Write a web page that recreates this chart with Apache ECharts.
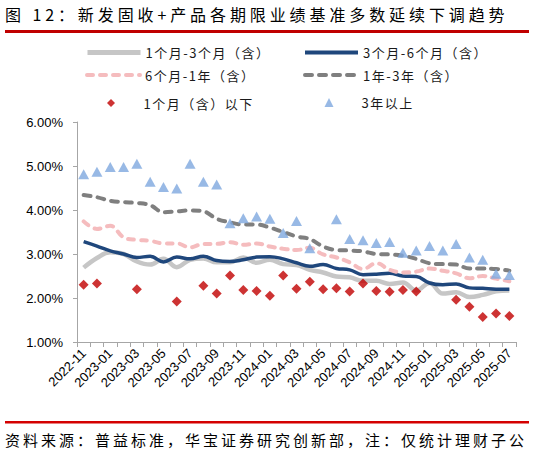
<!DOCTYPE html>
<html>
<head>
<meta charset="utf-8">
<script src="https://cdn.jsdelivr.net/npm/echarts@6/dist/echarts.min.js"></script>
<style>
html,body{margin:0;padding:0;background:#fff;}
#chart{width:534px;height:452px;}
</style>
</head>
<body>
<div id="chart"></div>
<script>
var categories = ['2022-11','2022-12','2023-01','2023-02','2023-03','2023-04','2023-05','2023-06','2023-07','2023-08','2023-09','2023-10','2023-11','2023-12','2024-01','2024-02','2024-03','2024-04','2024-05','2024-06','2024-07','2024-08','2024-09','2024-10','2024-11','2024-12','2025-01','2025-02','2025-03','2025-04','2025-05','2025-06','2025-07'];
var yTicks = [1, 2, 3, 4, 5, 6];
var m1to3 = [2.69,2.91,3.04,3.00,2.83,2.76,2.89,2.70,2.87,2.90,2.81,2.81,2.92,2.80,2.87,2.77,2.75,2.64,2.58,2.49,2.47,2.39,2.39,2.32,2.35,2.17,2.34,2.10,2.13,2.02,2.07,2.15,2.17];
var m3to6 = [3.28,3.18,3.07,3.00,2.92,2.95,2.82,2.93,2.89,2.95,2.85,2.83,2.87,2.93,2.94,2.89,2.80,2.72,2.76,2.67,2.64,2.53,2.54,2.56,2.50,2.49,2.34,2.30,2.32,2.23,2.22,2.20,2.20];
var m6to1y = [3.74,3.57,3.64,3.38,3.32,3.30,3.24,3.24,3.15,3.23,3.23,3.27,3.21,3.24,3.17,3.12,3.09,3.14,2.99,2.92,2.81,2.66,2.79,2.64,2.58,2.60,2.67,2.62,2.56,2.45,2.50,2.44,2.38];
var y1to3 = [4.34,4.29,4.21,4.18,4.16,4.11,3.95,3.97,3.99,3.97,3.80,3.72,3.67,3.67,3.60,3.50,3.40,3.34,3.17,3.09,3.08,3.06,3.00,2.99,2.96,2.89,2.79,2.77,2.76,2.67,2.67,2.66,2.62];
var under1m = [2.30,2.33,null,null,2.20,null,null,1.92,null,2.28,2.10,2.51,2.18,2.16,2.05,2.51,2.21,2.37,2.20,2.22,2.15,2.33,2.16,2.14,2.18,2.15,null,null,1.96,1.80,1.57,1.65,1.59];
var over3y = [4.81,4.87,4.98,4.98,5.05,4.64,4.52,4.49,5.05,4.64,4.58,3.70,3.81,3.85,3.80,3.48,3.75,3.13,null,3.79,3.34,3.31,3.25,3.27,3.03,3.08,3.18,3.08,3.23,2.92,2.87,2.55,2.52];
var names = ['1个月-3个月（含）','3个月-6个月（含）','6个月-1年（含）','1年-3年（含）','1个月（含）以下','3年以上'];
var titleText = '图 12：新发固收+产品各期限业绩基准多数延续下调趋势';
var sourceText = '资料来源：普益标准，华宝证券研究创新部，注：仅统计理财子公';

var FONT = '"Liberation Sans", Arial, "Noto Sans CJK SC", sans-serif';
var CJK = '"Noto Sans CJK SC", "Liberation Sans", sans-serif';

function legLine(name, left, cy, lw){
  return {
    data:[name], left:left, top:cy - 7, padding:0, itemWidth:53, itemHeight:14,
    selectedMode:false,
    itemStyle:{opacity:0},
    lineStyle:{width:lw},
    textStyle:{fontSize:13, color:'#1a1a1a', fontFamily:CJK}
  };
}
function legMark(name, cx, cy, s){
  return {
    data:[name], left:cx - s/2, top:cy - s/2, padding:0, itemWidth:s, itemHeight:s,
    selectedMode:false,
    textStyle:{fontSize:13, color:'#1a1a1a', fontFamily:CJK, padding:[0,0,0,(53 - s)/2 + 1]}
  };
}

var chart = echarts.init(document.getElementById('chart'), null, {renderer:'svg', width:534, height:452});
var option = {
  animation:false,
  backgroundColor:'#fff',
  grid:{left:77, right:18, top:122, bottom:110, containLabel:false},
  legend:[
    legLine(names[0], 85, 53, 5),
    legLine(names[1], 303, 53, 4),
    legLine(names[2], 85, 75.5, 4),
    legLine(names[3], 303, 75.5, 4),
    legMark(names[4], 111, 100.5, 8),
    legMark(names[5], 329, 100.5, 9)
  ],
  xAxis:{
    type:'category', data:categories, boundaryGap:true,
    axisLine:{lineStyle:{color:'#a6a6a6', width:1}},
    axisTick:{show:true, interval:0, length:5, lineStyle:{color:'#a6a6a6'}},
    axisLabel:{interval:1, rotate:45, margin:9, fontSize:13, color:'#000', fontFamily:FONT}
  },
  yAxis:{
    type:'value', min:yTicks[0], max:yTicks[yTicks.length-1], interval:1,
    axisLine:{show:true, lineStyle:{color:'#a6a6a6', width:1}},
    axisTick:{show:true, length:4, lineStyle:{color:'#a6a6a6'}},
    splitLine:{show:false},
    axisLabel:{margin:14, fontSize:13, color:'#000', fontFamily:FONT,
      formatter:function(v){return v.toFixed(2)+'%';}}
  },
  series:[
    {name:names[0], type:'line', data:m1to3, smooth:0.4, symbol:'none',
     lineStyle:{color:'#c6c6c6', width:4.5}, itemStyle:{color:'#c6c6c6'}, z:2},
    {name:names[1], type:'line', data:m3to6, smooth:0.4, symbol:'none',
     lineStyle:{color:'#1f477c', width:3.5}, itemStyle:{color:'#1f477c'}, z:3},
    {name:names[2], type:'line', data:m6to1y, smooth:0.4, symbol:'none',
     lineStyle:{color:'#f5bcbe', width:4, type:[6,7], cap:'round'}, itemStyle:{color:'#f5bcbe'}, z:3},
    {name:names[3], type:'line', data:y1to3, smooth:0.4, symbol:'none',
     lineStyle:{color:'#7f7f7f', width:4, type:[7,7], cap:'round'}, itemStyle:{color:'#7f7f7f'}, z:3},
    {name:names[4], type:'scatter', data:under1m, symbol:'diamond', symbolSize:10,
     itemStyle:{color:'#c00000'}, z:4},
    {name:names[5], type:'scatter', data:over3y, symbol:'triangle', symbolSize:[11,10],
     itemStyle:{color:'#7ea8de'}, z:4}
  ],
  graphic:[
    {type:'text', left:5, top:6, style:{text:titleText, fontSize:16, fontFamily:CJK, fill:'#000'}},
    {type:'rect', shape:{x:5, y:30, width:524, height:3}, style:{fill:'#c00000'}},
    {type:'rect', shape:{x:5, y:421, width:524, height:2.5}, style:{fill:'#d40000'}},
    {type:'text', left:5, top:432, style:{text:sourceText, fontSize:15, fontFamily:CJK, fill:'#000'}}
  ]
};
chart.setOption(option);

function spacing(){
  var texts = document.querySelectorAll('#chart svg text');
  for (var i=0;i<texts.length;i++){
    var t = texts[i].textContent || '';
    if (t.indexOf('图 12') === 0) texts[i].style.letterSpacing = '3.9px';
    else if (t.indexOf('资料来源') === 0) texts[i].style.letterSpacing = '3px';
    else if (names.indexOf(t) >= 0) texts[i].style.letterSpacing = '1.5px';
  }
}
try { chart.getZr().flush(); } catch(e){}
spacing();
setTimeout(spacing, 0);
setTimeout(spacing, 100);
</script>
</body>
</html>
